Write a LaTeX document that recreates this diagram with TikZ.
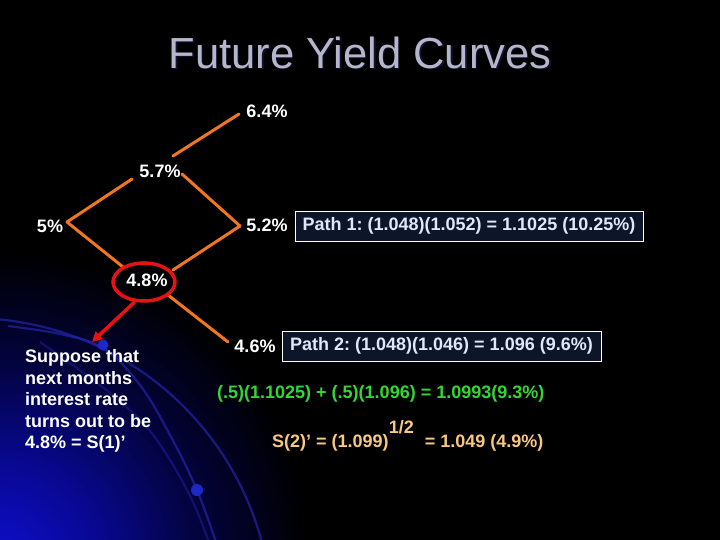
\documentclass[tikz,border=0pt]{standalone}
\usepackage{fontspec}
\setmainfont{Liberation Sans}
\usetikzlibrary{shapes.geometric,arrows.meta}
\definecolor{treeorange}{RGB}{240,118,32}
\definecolor{ringred}{RGB}{232,18,18}
\definecolor{titlegray}{RGB}{182,182,202}
\definecolor{titleshadow}{RGB}{16,16,48}
\definecolor{boxfill}{RGB}{12,22,40}
\definecolor{boxtext}{RGB}{222,232,248}
\definecolor{eqgreen}{RGB}{52,214,52}
\definecolor{eqpeach}{RGB}{248,200,130}
\definecolor{arcblue}{RGB}{36,36,170}
\definecolor{dotblue}{RGB}{30,40,200}
\definecolor{glowA}{RGB}{14,14,205}
\definecolor{glowB}{RGB}{8,8,145}
\definecolor{glowC}{RGB}{3,3,62}
\pgfdeclareradialshading{glow}{\pgfpoint{0bp}{0bp}}{color(0bp)=(glowA); color(8bp)=(glowB); color(16bp)=(glowC); color(25bp)=(black); color(50bp)=(black)}
\tikzset{
  rate/.style={anchor=base, inner sep=0pt, text=white, font=\bfseries\fontsize{18}{21.5}\selectfont},
  branch/.style={draw=treeorange, line width=3pt, line cap=round},
  pathbox/.style={draw=white, line width=0.9pt, fill=boxfill, text=boxtext, inner sep=0pt,
    minimum height=30pt, font=\bfseries\fontsize{18}{21.5}\selectfont},
  eqtext/.style={anchor=base west, inner sep=0pt, font=\bfseries\fontsize{18}{21.5}\selectfont},
  arcline/.style={draw=arcblue, line width=2.2pt, opacity=0.7},
}
\begin{document}
\frenchspacing
\begin{tikzpicture}[x=1pt,y=-1pt]
\fill[black] (0,0) rectangle (720,540);
\useasboundingbox (0,0) rectangle (720,540);
% background glow and decorative arcs
\begin{scope}
  \clip (0,0) rectangle (720,540);
  \shade[shading=glow] (0,560) circle (310);
  \draw[arcline] (-30,620) circle (302);
  \draw[arcline] plot[smooth, tension=0.6] coordinates {(8,326) (60,334) (103,348) (140,385) (170,435) (197,490) (217,545)};
  \draw[arcline, opacity=0.45] plot[smooth, tension=0.6] coordinates {(40,342) (100,385) (140,420) (165,452) (192,500) (210,545)};
  \fill[dotblue] (103,345) circle (5.5);
  \fill[dotblue] (197,490) circle (6);
\end{scope}

% title
\node[anchor=base, inner sep=0pt, text=titleshadow, font=\fontsize{43.5}{50}\selectfont] at (361.5,70) {Future Yield Curves};
\node[anchor=base, inner sep=0pt, text=titlegray, font=\fontsize{43.5}{50}\selectfont] (title) at (360,68.5) {Future Yield Curves};

% rate labels
\node[rate] (t64) at (267,117.5) {6.4\%};
\node[rate] (t57) at (160,178) {5.7\%};
\node[rate] (t5)  at (50,233) {5\%};
\node[rate] (t52) at (267,232) {5.2\%};
\node[rate] (t48) at (147,286) {4.8\%};
\node[rate] (t46) at (255,352) {4.6\%};

% branch end points
\coordinate (v5)   at (67,222);
\coordinate (a57)  at (132,179);
\coordinate (b57)  at (173,156);
\coordinate (c57)  at (182,174);
\coordinate (v64)  at (239,114);
\coordinate (v52)  at (240,226);
\coordinate (a48)  at (123,267);
\coordinate (b48)  at (173,270);
\coordinate (c48)  at (168,295);
\coordinate (v46)  at (228,342);

\draw[branch] (v5) -- (a57);
\draw[branch] (b57) -- (v64);
\draw[branch] (c57) -- (v52);
\draw[branch] (v5) -- (a48);
\draw[branch] (v52) -- (b48);
\draw[branch] (c48) -- (v46);

% highlighted ring and arrow
\node[ellipse, draw=ringred, line width=3.5pt, minimum width=62pt, minimum height=38pt, inner sep=0pt] (ring) at (144,282) {};
\coordinate (arrowtip) at (92,342);
\draw[draw=ringred, line width=3.5pt, -{Triangle[length=10pt,width=10pt]}] (ring.245) -- (arrowtip);

% path boxes
\node[pathbox, minimum width=348pt] (p1) at (469,226) {Path 1: (1.048)(1.052) = 1.1025 (10.25\%)};
\node[pathbox, minimum width=319pt] (p2) at (441.5,346) {Path 2: (1.048)(1.046) = 1.096 (9.6\%)};

% equations
\node[eqtext, text=eqgreen] (avg) at (217,398.5) {(.5)(1.1025) + (.5)(1.096) = 1.0993(9.3\%)};
\node[eqtext, text=eqpeach] (s2) at (272,447.5) {S(2)’ = (1.099)\raisebox{14pt}{1/2}\hspace{11pt}= 1.049 (4.9\%)};

% explanation
\node[anchor=base west, align=left, inner sep=0pt, text=white, font=\bfseries\fontsize{18}{21.5}\selectfont] (note) at (25,448.5)
  {Suppose that\\next months\\interest rate\\turns out to be\\4.8\% = S(1)’};
\end{tikzpicture}
\end{document}
